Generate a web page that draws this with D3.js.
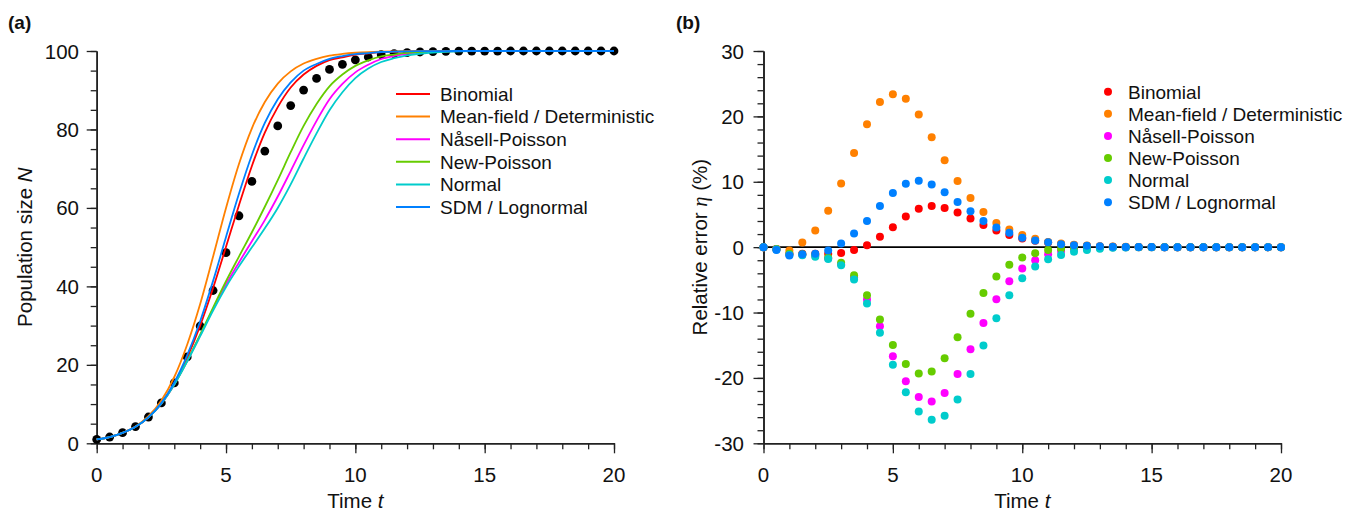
<!DOCTYPE html>
<html>
<head>
<meta charset="utf-8">
<script src="https://cdn.jsdelivr.net/npm/d3@7"></script>
<style>
  html, body { margin: 0; padding: 0; background: #fff; }
  svg { display: block; font-family: "Liberation Sans", Arial, Helvetica, sans-serif; }
</style>
</head>
<body>
<svg id="chart" width="1355" height="512"></svg>
<script>
// ---- data ----
const times = [0, 0.5, 1, 1.5, 2, 2.5, 3, 3.5, 4, 4.5, 5, 5.5, 6, 6.5, 7, 7.5, 8, 8.5, 9, 9.5, 10,
  10.5, 11, 11.5, 12, 12.5, 13, 13.5, 14, 14.5, 15, 15.5, 16, 16.5, 17, 17.5, 18, 18.5, 19, 19.5, 20];

const seriesNames = ["Binomial", "Mean-field / Deterministic", "Nåsell-Poisson", "New-Poisson", "Normal", "SDM / Lognormal"];
const seriesColors = ["#ff0000", "#ff8000", "#ff00ff", "#66cc00", "#00cccc", "#0080ff"];

// simulated mean population (black dots)
const simulated = [1.0, 1.6, 2.7, 4.27, 6.7, 10.3, 15.4, 22.0, 29.9, 38.95, 48.6, 58.0, 66.75, 74.5, 80.9, 86.1,
  90.05, 93.0, 95.3, 96.6, 97.75, 98.47, 99.05, 99.35, 99.6, 99.75, 99.85, 99.92, 99.95, 99.97, 99.98, 99.99,
  100, 100, 100, 100, 100, 100, 100, 100, 100];

// model curves N(t)
const binomialN = [1.0, 1.6, 2.67, 4.23, 6.63, 10.2, 15.26, 21.9, 30.0, 39.6, 50.1, 60.7, 70.7, 79.2, 85.7, 90.7,
  94.0, 96.2, 97.7, 98.4, 99.05, 99.4, 99.7, 99.8, 99.9, 99.93, 99.95, 99.97, 99.98, 99.99,
  100, 100, 100, 100, 100, 100, 100, 100, 100, 100, 100];
const meanFieldN = [1.0, 1.6, 2.7, 4.3, 6.9, 10.9, 16.9, 25.2, 35.5, 47.6, 60.0, 71.2, 80.3, 87.0, 91.7, 94.8,
  96.8, 98.0, 98.8, 99.25, 99.55, 99.73, 99.84, 99.9, 99.94, 99.96, 99.98, 99.99,
  100, 100, 100, 100, 100, 100, 100, 100, 100, 100, 100, 100, 100];
const nasellN = [1.0, 1.6, 2.67, 4.22, 6.61, 10.12, 15.0, 20.99, 27.5, 34.24, 40.5, 46.1, 51.5, 56.9, 62.9, 69.4,
  76.0, 82.2, 87.7, 91.6, 94.55, 96.5, 97.96, 98.75, 99.3, 99.6, 99.8, 99.9, 99.95, 99.97, 99.98, 99.99,
  100, 100, 100, 100, 100, 100, 100, 100, 100];
const newPoissonN = [1.0, 1.6, 2.67, 4.22, 6.62, 10.14, 15.03, 21.05, 27.7, 34.6, 41.3, 47.6, 53.8, 60.3, 67.1, 74.2,
  80.9, 86.5, 91.0, 94.0, 96.2, 97.6, 98.6, 99.1, 99.5, 99.7, 99.85, 99.92, 99.95, 99.97, 99.98, 99.99,
  100, 100, 100, 100, 100, 100, 100, 100, 100];
const normalN = [1.0, 1.59, 2.67, 4.22, 6.6, 10.11, 14.97, 20.9, 27.3, 33.85, 39.85, 45.1, 49.96, 54.8, 60.0, 66.0,
  72.6, 79.0, 84.9, 89.5, 93.1, 95.55, 97.2, 98.16, 98.9, 99.3, 99.6, 99.8, 99.9, 99.95, 99.97, 99.99,
  100, 100, 100, 100, 100, 100, 100, 100, 100];
const sdmN = [1.0, 1.59, 2.67, 4.22, 6.63, 10.25, 15.49, 22.46, 31.1, 41.4, 52.6, 63.6, 73.5, 81.65, 87.7, 92.0,
  95.0, 96.7, 98.0, 98.7, 99.2, 99.45, 99.75, 99.82, 99.9, 99.95, 99.97, 99.99,
  100, 100, 100, 100, 100, 100, 100, 100, 100, 100, 100, 100, 100];

// relative error eta (%) of each model
const binomialErr = [0, -0.3, -1.0, -1.0, -1.0, -1.0, -0.9, -0.45, 0.3, 1.6, 3.06, 4.7, 5.87, 6.28, 5.97, 5.3,
  4.4, 3.4, 2.55, 1.84, 1.33, 0.97, 0.7, 0.45, 0.3, 0.18, 0.1, 0.06, 0.03, 0.02, 0.01, 0,
  0, 0, 0, 0, 0, 0, 0, 0, 0];
const meanFieldErr = [0, -0.3, -0.5, 0.7, 2.55, 5.56, 9.74, 14.4, 18.8, 22.2, 23.4, 22.7, 20.3, 16.8, 13.3, 10.1,
  7.5, 5.36, 3.7, 2.7, 1.84, 1.28, 0.8, 0.55, 0.35, 0.25, 0.15, 0.1, 0.05, 0.03, 0.02, 0.01,
  0, 0, 0, 0, 0, 0, 0, 0, 0];
const nasellErr = [0, -0.3, -1.1, -1.15, -1.3, -1.7, -2.6, -4.6, -8.0, -12.1, -16.7, -20.5, -22.9, -23.6, -22.3, -19.4,
  -15.6, -11.6, -7.96, -5.2, -3.27, -2.0, -1.1, -0.6, -0.3, -0.15, -0.05, -0.03, -0.01, 0, 0, 0,
  0, 0, 0, 0, 0, 0, 0, 0, 0];
const newPoissonErr = [0, -0.3, -1.0, -1.1, -1.2, -1.6, -2.4, -4.3, -7.35, -11.07, -14.95, -17.86, -19.34, -19.03, -17.0, -13.78,
  -10.2, -7.0, -4.5, -2.7, -1.58, -0.92, -0.45, -0.25, -0.1, -0.05, -0.02, -0.01, 0, 0, 0, 0,
  0, 0, 0, 0, 0, 0, 0, 0, 0];
const normalErr = [0, -0.35, -1.2, -1.25, -1.48, -1.8, -2.76, -4.95, -8.6, -13.1, -18.0, -22.2, -25.15, -26.4, -25.8, -23.3,
  -19.4, -15.05, -10.87, -7.35, -4.74, -2.96, -1.84, -1.2, -0.7, -0.45, -0.25, -0.1, -0.05, -0.02, 0, 0,
  0, 0, 0, 0, 0, 0, 0, 0, 0];
const sdmErr = [0, -0.45, -1.28, -1.07, -1.0, -0.5, 0.56, 2.1, 4.0, 6.3, 8.3, 9.7, 10.15, 9.6, 8.4, 6.9,
  5.5, 4.0, 3.0, 2.2, 1.45, 1.0, 0.75, 0.45, 0.3, 0.2, 0.12, 0.07, 0.04, 0.02, 0.01, 0,
  0, 0, 0, 0, 0, 0, 0, 0, 0];

const curvesN = [binomialN, meanFieldN, nasellN, newPoissonN, normalN, sdmN];
const errors = [binomialErr, meanFieldErr, nasellErr, newPoissonErr, normalErr, sdmErr];

// ticks
const xMajorTicks = [0, 5, 10, 15, 20];
const xMinorTicks = d3.range(0, 21, 1);
const yMajorTicksA = [0, 20, 40, 60, 80, 100];
const yMinorTicksA = d3.range(0, 101, 5);
const yMajorTicksB = [-30, -20, -10, 0, 10, 20, 30];
const yMinorTicksB = d3.range(-30, 31, 2);

// ---- layout ----
const svg = d3.select("#chart");
const plotTop = 51, plotBottom = 443.3;
const xA = d3.scaleLinear().domain([0, 20]).range([96.7, 614]);
const yA = d3.scaleLinear().domain([0, 100]).range([plotBottom, plotTop]);
const xB = d3.scaleLinear().domain([0, 20]).range([763.5, 1281]);
const yB = d3.scaleLinear().domain([-30, 30]).range([plotBottom, plotTop]);

const axisColor = "#222";
const tickFont = 20.5;
const legendFont = 19;

function drawAxes(x, y, yMajor, yMinor, labelRight) {
  const g = svg.append("g");
  // minor ticks
  g.append("g").attr("transform", `translate(0,${plotBottom})`)
    .call(d3.axisBottom(x).tickValues(xMinorTicks).tickSize(6).tickSizeOuter(0).tickFormat(""));
  g.append("g").attr("transform", `translate(${x.range()[0]},0)`)
    .call(d3.axisLeft(y).tickValues(yMinor).tickSize(6).tickSizeOuter(0).tickFormat(""));
  // major ticks
  g.append("g").attr("transform", `translate(0,${plotBottom})`)
    .call(d3.axisBottom(x).tickValues(xMajorTicks).tickSize(10).tickSizeOuter(0).tickFormat(""));
  g.append("g").attr("transform", `translate(${x.range()[0]},0)`)
    .call(d3.axisLeft(y).tickValues(yMajor).tickSize(10).tickSizeOuter(0).tickFormat(""));
  g.selectAll("path.domain").attr("stroke", axisColor).attr("stroke-width", 1.6);
  g.selectAll(".tick line").attr("stroke", axisColor).attr("stroke-width", 1.3);

  // tick labels
  g.selectAll("text.xl").data(xMajorTicks).join("text")
    .attr("class", "xl")
    .attr("x", d => x(d)).attr("y", 482)
    .attr("text-anchor", "middle")
    .attr("font-size", tickFont).attr("fill", "#111")
    .text(d => d);
  g.selectAll("text.yl").data(yMajor).join("text")
    .attr("class", "yl")
    .attr("x", labelRight).attr("y", d => y(d) + 7.5)
    .attr("text-anchor", "end")
    .attr("font-size", tickFont).attr("fill", "#111")
    .text(d => d);
  return g;
}

// ---- panel (a) ----
drawAxes(xA, yA, yMajorTicksA, yMinorTicksA, 79);

svg.append("g").selectAll("circle").data(times).join("circle")
  .attr("cx", d => xA(d))
  .attr("cy", (d, i) => yA(simulated[i]))
  .attr("r", 4.4)
  .attr("fill", "#000");

const lineA = d3.line().curve(d3.curveMonotoneX);
curvesN.forEach((vals, k) => {
  svg.append("path")
    .attr("d", lineA(times.map((t, i) => [xA(t), yA(vals[i])])))
    .attr("fill", "none")
    .attr("stroke", seriesColors[k])
    .attr("stroke-width", 1.8);
});

// legend (a)
const legA = svg.append("g");
seriesNames.forEach((name, k) => {
  const ly = 94 + k * 22.6;
  legA.append("line").attr("x1", 396).attr("x2", 430).attr("y1", ly).attr("y2", ly)
    .attr("stroke", seriesColors[k]).attr("stroke-width", 2);
  legA.append("text").attr("x", 440).attr("y", ly + 6.8)
    .attr("font-size", legendFont).attr("fill", "#111").text(name);
});

// axis titles (a)
svg.append("text").attr("x", xA(10)).attr("y", 507.5).attr("text-anchor", "middle")
  .attr("font-size", 20.5).attr("fill", "#111")
  .call(t => { t.append("tspan").text("Time "); t.append("tspan").attr("font-style", "italic").text("t"); });
svg.append("text").attr("transform", `translate(32,${(plotTop + plotBottom) / 2}) rotate(-90)`)
  .attr("text-anchor", "middle").attr("font-size", 20.5).attr("fill", "#111")
  .call(t => { t.append("tspan").text("Population size "); t.append("tspan").attr("font-style", "italic").text("N"); });

svg.append("text").attr("x", 8).attr("y", 29).attr("font-size", 19).attr("font-weight", "bold")
  .attr("fill", "#111").text("(a)");

// ---- panel (b) ----
drawAxes(xB, yB, yMajorTicksB, yMinorTicksB, 744);

svg.append("line").attr("x1", xB(0)).attr("x2", xB(20)).attr("y1", yB(0)).attr("y2", yB(0))
  .attr("stroke", "#000").attr("stroke-width", 1.8);

errors.forEach((vals, k) => {
  svg.append("g").selectAll("circle").data(times).join("circle")
    .attr("cx", d => xB(d))
    .attr("cy", (d, i) => yB(vals[i]))
    .attr("r", 4)
    .attr("fill", seriesColors[k]);
});

// legend (b)
const legB = svg.append("g");
seriesNames.forEach((name, k) => {
  const ly = 91.7 + k * 22.1;
  legB.append("circle").attr("cx", 1108).attr("cy", ly).attr("r", 4).attr("fill", seriesColors[k]);
  legB.append("text").attr("x", 1128).attr("y", ly + 6.8)
    .attr("font-size", legendFont).attr("fill", "#111").text(name);
});

svg.append("text").attr("x", xB(10)).attr("y", 507.5).attr("text-anchor", "middle")
  .attr("font-size", 20.5).attr("fill", "#111")
  .call(t => { t.append("tspan").text("Time "); t.append("tspan").attr("font-style", "italic").text("t"); });
svg.append("text").attr("transform", `translate(707,${(plotTop + plotBottom) / 2}) rotate(-90)`)
  .attr("text-anchor", "middle").attr("font-size", 20.5).attr("fill", "#111")
  .call(t => {
    t.append("tspan").text("Relative error ");
    t.append("tspan").attr("font-style", "italic").attr("font-family", "'Liberation Serif', 'DejaVu Serif', serif").text("η");
    t.append("tspan").text(" (%)");
  });

svg.append("text").attr("x", 676).attr("y", 29).attr("font-size", 19).attr("font-weight", "bold")
  .attr("fill", "#111").text("(b)");
</script>
</body>
</html>
